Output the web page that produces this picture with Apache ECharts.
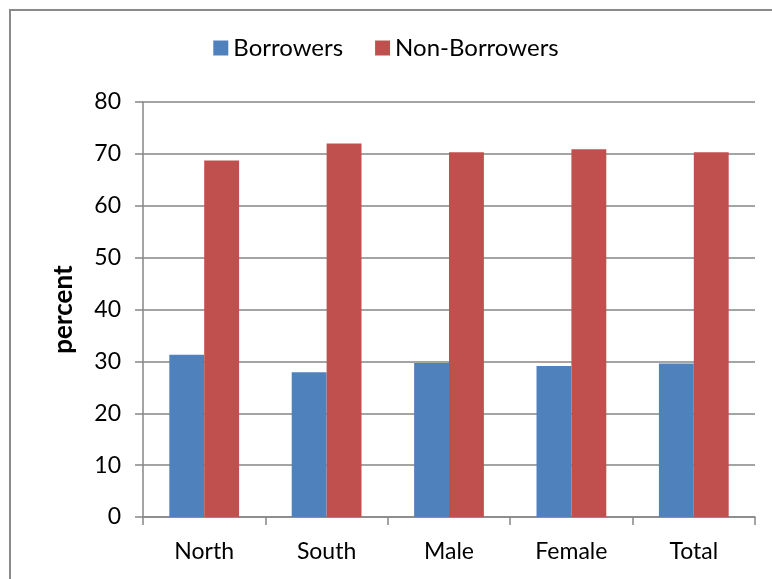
<!DOCTYPE html>
<html>
<head>
<meta charset="utf-8">
<script src="https://cdn.jsdelivr.net/npm/echarts@6/dist/echarts.min.js"></script>
<style>html,body{margin:0;padding:0;background:#fff}#c{width:772px;height:579px}</style>
</head>
<body>
<div id="c"></div>
<script>
var categories = ['North', 'South', 'Male', 'Female', 'Total'];
var borrowers = [31.3, 27.9, 29.7, 29.1, 29.6];
var nonBorrowers = [68.7, 72.0, 70.3, 70.9, 70.3];
var yTicks = { min: 0, max: 80, interval: 10 };
var FONT = 'Lato, "Open Sans", sans-serif';

var chart = echarts.init(document.getElementById('c'));
chart.setOption({
  animation: false,
  backgroundColor: '#fff',
  textStyle: { fontFamily: FONT },
  graphic: [{
    type: 'rect',
    shape: { x: 10, y: 10, width: 800, height: 600 },
    style: { fill: 'none', stroke: '#8a8a8a', lineWidth: 2 }
  }],
  legend: {
    top: 31, left: 'center',
    itemWidth: 15, itemHeight: 15, itemGap: 32,
    icon: 'rect',
    textStyle: { fontSize: 24, color: '#000', fontFamily: FONT },
    data: ['Borrowers', 'Non-Borrowers']
  },
  grid: { left: 143, right: 17, top: 102, bottom: 62 },
  xAxis: {
    type: 'category',
    data: categories,
    axisLine: { lineStyle: { color: '#868686', width: 1.5 } },
    axisTick: { show: true, length: 8, lineStyle: { color: '#868686', width: 1.5 } },
    axisLabel: { fontSize: 23, color: '#000', margin: 23, fontFamily: FONT },
    splitLine: { show: false }
  },
  yAxis: {
    type: 'value',
    min: yTicks.min, max: yTicks.max, interval: yTicks.interval,
    name: 'percent',
    nameLocation: 'middle',
    nameGap: 66,
    nameTextStyle: { fontSize: 26, fontWeight: 'bold', color: '#000', fontFamily: FONT },
    axisLine: { show: true, lineStyle: { color: '#868686', width: 1.5 } },
    axisTick: { show: true, length: 8, lineStyle: { color: '#868686', width: 1.5 } },
    axisLabel: { fontSize: 23, color: '#000', margin: 22, fontFamily: FONT },
    splitLine: { show: true, lineStyle: { color: '#868686', width: 1.5 } }
  },
  series: [
    { name: 'Borrowers', type: 'bar', data: borrowers, barGap: '0%', barCategoryGap: '43%',
      itemStyle: { color: '#4F81BD' } },
    { name: 'Non-Borrowers', type: 'bar', data: nonBorrowers,
      itemStyle: { color: '#C0504D' } }
  ]
});
</script>
</body>
</html>
